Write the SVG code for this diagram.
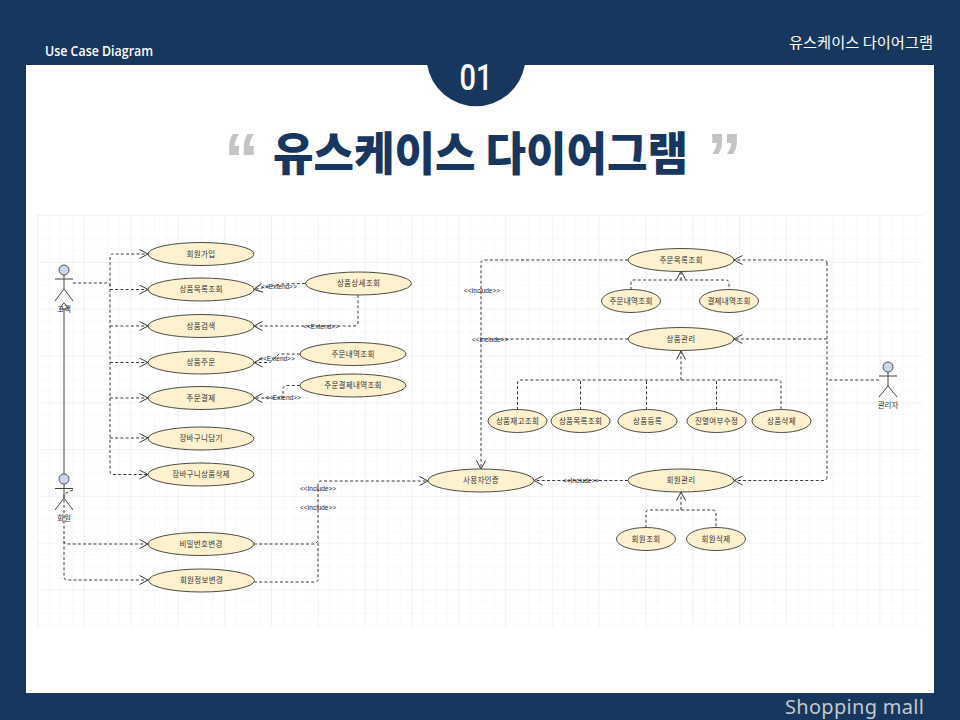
<svg xmlns="http://www.w3.org/2000/svg" width="960" height="720" viewBox="0 0 960 720">
<style>
.kr{font-family:"Noto Sans CJK KR","Noto Sans",sans-serif}
.uc ellipse{fill:#fdf1cf;stroke:#4d4d45;stroke-width:1}
.uc text{font-family:"Noto Sans CJK KR","Noto Sans",sans-serif;font-size:7.5px;fill:#333;text-anchor:middle;letter-spacing:.3px}
.actor circle{fill:#c9d8ec;stroke:#555;stroke-width:1}
.actor path{fill:none;stroke:#444;stroke-width:1}
.actor text{font-family:"Noto Sans CJK KR","Noto Sans",sans-serif;font-size:7.5px;fill:#333;text-anchor:middle}
.c{fill:none;stroke:#3a3a3a;stroke-width:1;stroke-dasharray:3 2.2}
.a{marker-end:url(#open)}
.lbl{font-family:"Liberation Sans",sans-serif;font-size:6.5px;fill:#223;text-anchor:middle}
</style>
<defs>
<pattern id="minor" width="11.7" height="11.7" patternUnits="userSpaceOnUse" x="37" y="215"><path d="M11.7 0H0V11.7" fill="none" stroke="#f2f2f2" stroke-width=".8"/></pattern>
<pattern id="major" width="46.8" height="46.8" patternUnits="userSpaceOnUse" x="37" y="215"><path d="M46.8 0H0V46.8" fill="none" stroke="#e9e9e9" stroke-width=".8"/></pattern>
<marker id="open" viewBox="0 0 10 10" refX="9.5" refY="5" markerWidth="10" markerHeight="10" markerUnits="userSpaceOnUse" orient="auto"><path d="M1 .5L9.5 5L1 9.5" fill="none" stroke="#3a3a3a" stroke-width="1"/></marker>
</defs>

<rect width="960" height="720" fill="#18375f"/>
<rect x="26" y="65" width="908" height="628" fill="#fff"/>
<path d="M427.200 65A49.500 49.500 0 0 0 524.800 65Z" fill="#18375f"/>
<text x="476" y="90" font-family="'Roboto','Liberation Sans',sans-serif" font-size="37" font-weight="500" fill="#fff" text-anchor="middle" textLength="33" lengthAdjust="spacingAndGlyphs">01</text>
<text x="45" y="56" font-family="'Open Sans','Liberation Sans',sans-serif" font-size="15" font-weight="600" fill="#fff" textLength="108" lengthAdjust="spacingAndGlyphs">Use Case Diagram</text>
<text x="789" y="48" class="kr" font-size="14.500" fill="#fff" textLength="144" lengthAdjust="spacingAndGlyphs">유스케이스 다이어그램</text>
<text x="273" y="170" class="kr" font-size="46" font-weight="900" fill="#18375f" textLength="415" lengthAdjust="spacingAndGlyphs">유스케이스 다이어그램</text>
<text x="224" y="183" font-family="'Liberation Sans',sans-serif" font-size="70" font-weight="700" fill="#c4c4c4">“</text>
<text x="707" y="183" font-family="'Liberation Sans',sans-serif" font-size="70" font-weight="700" fill="#c4c4c4">”</text>
<text x="785" y="714" font-family="'Noto Sans',sans-serif" font-size="20" fill="#c3c8cf" textLength="139" lengthAdjust="spacing">Shopping mall</text>

<rect x="37" y="215" width="886" height="413" fill="url(#minor)"/>
<rect x="37" y="215" width="886" height="413" fill="url(#major)"/>

<g id="connectors">
<path class="c" d="M73 283H107Q110 283 110 286V471Q110 474.500 113 474.500H148" marker-end="url(#open)"/>
<path class="c" d="M110 286V257Q110 254 113 254H148" marker-end="url(#open)"/>
<path class="c a" d="M110 289.500H148"/>
<path class="c a" d="M110 326H148"/>
<path class="c a" d="M110 362.500H148"/>
<path class="c a" d="M110 398H148"/>
<path class="c a" d="M110 438H148"/>
<path d="M64 474V304" fill="none" stroke="#444" stroke-width="1"/>
<path d="M59.500 309L64 302.500L68.500 309Z" fill="#fff" stroke="#444" stroke-width="1"/>
<path class="c" d="M73 490L64 494V577Q64 580 67 580H148" marker-end="url(#open)"/>
<path class="c" d="M64 541Q64 544 67 544H148" marker-end="url(#open)"/>
<path class="c a" d="M305 283.500L282 284L254 289.500"/>
<path class="c a" d="M358 295V322Q358 326 354 326H254"/>
<path class="c a" d="M300 354H279L270 362.500H254"/>
<path class="c a" d="M300 385.500H287Q283 385.500 283 389V398H254"/>
<path class="c a" d="M254 544H315L318 541V484Q318 481 321 481H428"/>
<path class="c" d="M254 582H315Q318 582 318 579V541"/>
<path class="c" d="M628 260H484Q481 260 481 263V339"/>
<path class="c a" d="M481 339V469"/>
<path class="c" d="M628 339H481"/>
<path class="c a" d="M628 480.500H534"/>
<path class="c" d="M631 290V283Q631 280 634 280H726Q729 280 729 283V290"/>
<path class="c a" d="M681 280V271"/>
<path class="c" d="M517.500 410V383Q517.500 380 520.500 380H778Q781 380 781 383V410"/>
<path class="c" d="M580.500 410V380"/>
<path class="c" d="M646.500 410V380"/>
<path class="c" d="M716.500 410V380"/>
<path class="c a" d="M681 380V351"/>
<path class="c" d="M646 528V513Q646 510 649 510H713Q716 510 716 513V528"/>
<path class="c a" d="M681 510V492"/>
<path class="c" d="M879 380H827"/>
<path class="c a" d="M827 263Q827 260 824 260H734"/>
<path class="c" d="M827 263V477"/>
<path class="c a" d="M827 339H734"/>
<path class="c a" d="M827 477Q827 480.500 824 480.500H734"/>
<text class="lbl" x="279" y="288.500">&lt;&lt;Extend&gt;&gt;</text>
<text class="lbl" x="321" y="328.500">&lt;&lt;Extend&gt;&gt;</text>
<text class="lbl" x="277" y="361">&lt;&lt;Extend&gt;&gt;</text>
<text class="lbl" x="283" y="400">&lt;&lt;Extend&gt;&gt;</text>
<text class="lbl" x="318" y="491">&lt;&lt;Include&gt;&gt;</text>
<text class="lbl" x="318" y="510">&lt;&lt;Include&gt;&gt;</text>
<text class="lbl" x="482" y="293">&lt;&lt;Include&gt;&gt;</text>
<text class="lbl" x="490" y="341.500">&lt;&lt;Include&gt;&gt;</text>
<text class="lbl" x="581" y="482.500">&lt;&lt;Include&gt;&gt;</text>
</g>

<g id="actor-customer" class="actor"><circle cx="64" cy="270" r="5"/><path d="M55 279H73M64 275V289L55 301M64 289L73 301"/><text x="64" y="312">고객</text></g>
<g id="actor-member" class="actor"><circle cx="64" cy="479" r="5"/><path d="M55 488.500H73M64 484V498L55 510M64 498L73 510"/><text x="64" y="521">회원</text></g>
<g id="actor-admin" class="actor"><circle cx="888" cy="367" r="5"/><path d="M879 376H897M888 372V386L879 397M888 386L897 397"/><text x="888" y="408">관리자</text></g>

<g id="uc-join" class="uc"><ellipse cx="201" cy="254" rx="53" ry="11.500"/><text x="201" y="256.500">회원가입</text></g>
<g id="uc-list" class="uc"><ellipse cx="201" cy="289.500" rx="53" ry="11.500"/><text x="201" y="292">상품목록조회</text></g>
<g id="uc-search" class="uc"><ellipse cx="201" cy="326" rx="53" ry="11.500"/><text x="201" y="328.500">상품검색</text></g>
<g id="uc-order" class="uc"><ellipse cx="201" cy="362.500" rx="53" ry="11.500"/><text x="201" y="365">상품주문</text></g>
<g id="uc-pay" class="uc"><ellipse cx="201" cy="398" rx="53" ry="11.500"/><text x="201" y="400.500">주문결제</text></g>
<g id="uc-cart" class="uc"><ellipse cx="201" cy="438.500" rx="53" ry="11.500"/><text x="201" y="441">장바구니담기</text></g>
<g id="uc-cartdel" class="uc"><ellipse cx="201" cy="474.500" rx="53" ry="11.500"/><text x="201" y="477">장바구니상품삭제</text></g>
<g id="uc-pw" class="uc"><ellipse cx="201" cy="544" rx="53" ry="11.500"/><text x="201" y="546.500">비밀번호변경</text></g>
<g id="uc-info" class="uc"><ellipse cx="201.500" cy="580.500" rx="53" ry="11.500"/><text x="201.500" y="583">회원정보변경</text></g>
<g id="uc-detail" class="uc"><ellipse cx="358.500" cy="283.500" rx="53" ry="11.500"/><text x="358.500" y="286">상품상세조회</text></g>
<g id="uc-orderhist" class="uc"><ellipse cx="353" cy="354" rx="53" ry="11.500"/><text x="353" y="356.500">주문내역조회</text></g>
<g id="uc-payhist" class="uc"><ellipse cx="353" cy="385.500" rx="53" ry="11.500"/><text x="353" y="388">주문결제내역조회</text></g>
<g id="uc-auth" class="uc"><ellipse cx="481" cy="480.500" rx="53" ry="11.500"/><text x="481" y="483">사용자인증</text></g>
<g id="uc-orderlist" class="uc"><ellipse cx="681" cy="260" rx="53" ry="11.500"/><text x="681" y="262.500">주문목록조회</text></g>
<g id="uc-o1" class="uc"><ellipse cx="631" cy="301" rx="29.500" ry="11.500"/><text x="631" y="303.500">주문내역조회</text></g>
<g id="uc-o2" class="uc"><ellipse cx="729" cy="301" rx="29.500" ry="11.500"/><text x="729" y="303.500">결제내역조회</text></g>
<g id="uc-pm" class="uc"><ellipse cx="681" cy="339" rx="53" ry="11.500"/><text x="681" y="341.500">상품관리</text></g>
<g id="uc-p1" class="uc"><ellipse cx="517.500" cy="421" rx="29.500" ry="11.500"/><text x="517.500" y="423.500">상품재고조회</text></g>
<g id="uc-p2" class="uc"><ellipse cx="580.500" cy="421" rx="29.500" ry="11.500"/><text x="580.500" y="423.500">상품목록조회</text></g>
<g id="uc-p3" class="uc"><ellipse cx="647.500" cy="421" rx="29.500" ry="11.500"/><text x="647.500" y="423.500">상품등록</text></g>
<g id="uc-p4" class="uc"><ellipse cx="716.500" cy="421" rx="29.500" ry="11.500"/><text x="716.500" y="423.500">진열여부수정</text></g>
<g id="uc-p5" class="uc"><ellipse cx="781.500" cy="421" rx="29.500" ry="11.500"/><text x="781.500" y="423.500">상품삭제</text></g>
<g id="uc-mm" class="uc"><ellipse cx="681" cy="480.500" rx="53" ry="11.500"/><text x="681" y="483">회원관리</text></g>
<g id="uc-m1" class="uc"><ellipse cx="646" cy="539" rx="29.500" ry="11.500"/><text x="646" y="541.500">회원조회</text></g>
<g id="uc-m2" class="uc"><ellipse cx="716" cy="539" rx="29.500" ry="11.500"/><text x="716" y="541.500">회원삭제</text></g>
</svg>
